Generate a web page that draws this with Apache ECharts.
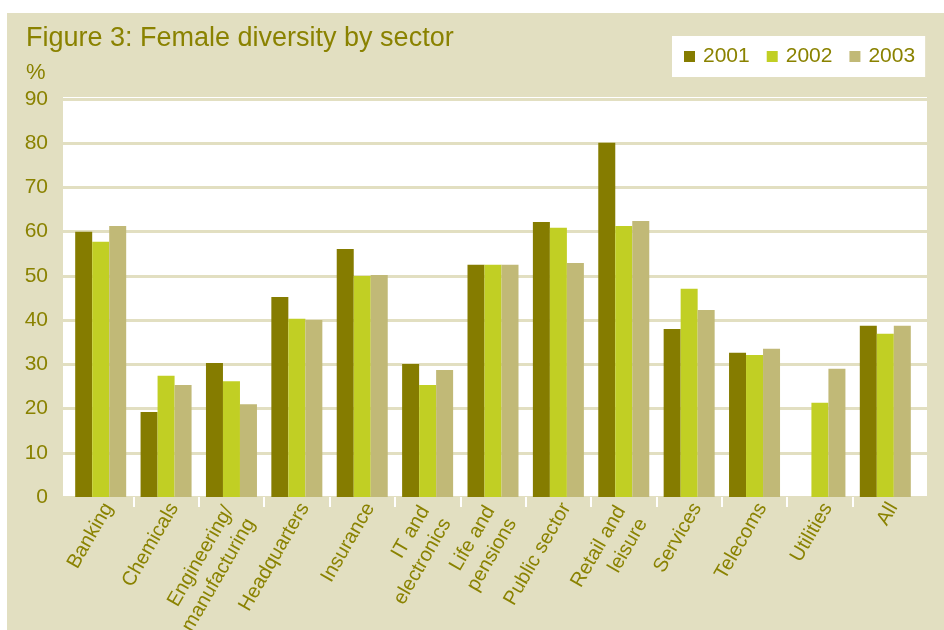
<!DOCTYPE html>
<html>
<head>
<meta charset="utf-8">
<script src="https://cdn.jsdelivr.net/npm/echarts@6/dist/echarts.min.js"></script>
<style>
html,body{margin:0;padding:0;background:#ffffff;}
#bg{position:absolute;left:7px;top:13px;width:937px;height:617px;background:#e2dfc1;}
#chart{position:absolute;left:0;top:0;width:944px;height:630px;}
</style>
</head>
<body>
<div id="bg"></div>
<div id="chart"></div>
<script>
const categories = ['Banking','Chemicals','Engineering/\nmanufacturing','Headquarters','Insurance','IT and\nelectronics','Life and\npensions','Public sector','Retail and\nleisure','Services','Telecoms','Utilities','All'];
const seriesNames = ['2001','2002','2003'];
const y2001 = [60.0,19.2,30.3,45.2,56.1,30.1,52.5,62.2,80.1,38.0,32.6,null,38.7];
const y2002 = [57.7,27.4,26.2,40.3,50.0,25.3,52.5,60.9,61.3,47.1,32.1,21.3,36.9];
const y2003 = [61.3,25.3,21.0,40.0,50.2,28.7,52.5,52.9,62.4,42.3,33.5,29.0,38.7];
const yMin = 0, yMax = 90, yStep = 10;
// boundaries between categories (for the white separator ticks)
const boundaries = categories.map(function (c, i) { return i; }).concat([categories.length]);

const textColor = '#8a8200';
const beige = '#e2dfc1';
const colors = ['#857c00','#c1cf24','#c1b977'];
const font = 'Liberation Sans, Arial, Helvetica, sans-serif';

const gridBase = {left: 68, right: 26, top: 99, bottom: 133, containLabel: false, outerBoundsMode: 'none'};

function labelFormatter(value) {
  const parts = String(value).split('\n');
  if (parts.length < 2) return '{o|' + parts[0] + '}';
  return '{f|' + parts[0] + '}\n{s|' + parts[1] + '}';
}

const chart = echarts.init(document.getElementById('chart'), null, {renderer:'canvas'});
chart.setOption({
  backgroundColor: 'transparent',
  animation: false,
  textStyle: {fontFamily: font},
  graphic: [
    {type:'text', x:26, y:38.5, style:{text:'Figure 3: Female diversity by sector', fontSize:27, fontFamily:font, fill:textColor, align:'left', verticalAlign:'middle'}},
    {type:'text', x:26, y:72.5, style:{text:'%', fontSize:22, fontFamily:font, fill:textColor, align:'left', verticalAlign:'middle'}}
  ],
  legend: {
    data: seriesNames,
    left: 672, top: 36,
    backgroundColor: '#ffffff',
    padding: [10, 10, 10, 12],
    itemWidth: 11, itemHeight: 11, itemGap: 17,
    icon: 'rect',
    textStyle: {fontSize: 21, color: textColor, fontFamily: font, padding:[0,0,0,3]}
  },
  grid: [
    Object.assign({}, gridBase),
    Object.assign({}, gridBase, {left: 63, right: 17, top: 97, show: true, backgroundColor: '#ffffff', borderWidth: 0}),
    Object.assign({}, gridBase, {left: 63, right: 17}),
    Object.assign({}, gridBase)
  ],
  xAxis: [
    {
      type: 'category', gridIndex: 0, data: categories,
      axisLine: {show: false},
      axisTick: {show: false},
      axisLabel: {
        interval: 0, rotate: 60, fontSize: 20, color: textColor, fontFamily: font, margin: 3, lineHeight: 25,
        verticalAlign: 'top', align: 'right',
        formatter: labelFormatter,
        rich: {
          o: {fontSize: 20, color: textColor, fontFamily: font, lineHeight: 18},
          f: {fontSize: 20, color: textColor, fontFamily: font, lineHeight: 3, padding: [0, 8, 0, 0]},
          s: {fontSize: 20, color: textColor, fontFamily: font, lineHeight: 47, padding: [0, 8, 0, 0]}
        }
      },
      splitLine: {show: false}
    },
    {type: 'value', gridIndex: 1, show: false},
    {type: 'value', gridIndex: 2, show: false},
    {
      type: 'category', gridIndex: 3, data: boundaries, boundaryGap: false,
      axisLine: {show: false},
      axisLabel: {show: false},
      axisTick: {show: true, length: 10, interval: function (i) { return i > 0 && i < categories.length; }, lineStyle: {color: '#ffffff', width: 2}},
      splitLine: {show: false}
    }
  ],
  yAxis: [
    {
      type: 'value', gridIndex: 0, min: yMin, max: yMax, interval: yStep,
      axisLine: {show: false}, axisTick: {show: false},
      axisLabel: {fontSize: 21, color: textColor, fontFamily: font, margin: 20},
      splitLine: {show: false}
    },
    {type: 'value', gridIndex: 1, show: false, min: 0, max: 1},
    {
      type: 'value', gridIndex: 2, min: yMin, max: yMax, interval: yStep,
      axisLine: {show: false}, axisTick: {show: false}, axisLabel: {show: false},
      splitLine: {show: true, lineStyle: {color: beige, width: 3}}
    },
    {type: 'value', gridIndex: 3, show: false, min: 0, max: 1}
  ],
  series: [
    {name: seriesNames[0], type: 'bar', xAxisIndex: 0, yAxisIndex: 0, data: y2001, barWidth: 17, barGap: '0%', itemStyle: {color: colors[0]}, z: 3},
    {name: seriesNames[1], type: 'bar', xAxisIndex: 0, yAxisIndex: 0, data: y2002, barWidth: 17, barGap: '0%', itemStyle: {color: colors[1]}, z: 3},
    {name: seriesNames[2], type: 'bar', xAxisIndex: 0, yAxisIndex: 0, data: y2003, barWidth: 17, barGap: '0%', itemStyle: {color: colors[2]}, z: 3}
  ]
});
</script>
</body>
</html>
